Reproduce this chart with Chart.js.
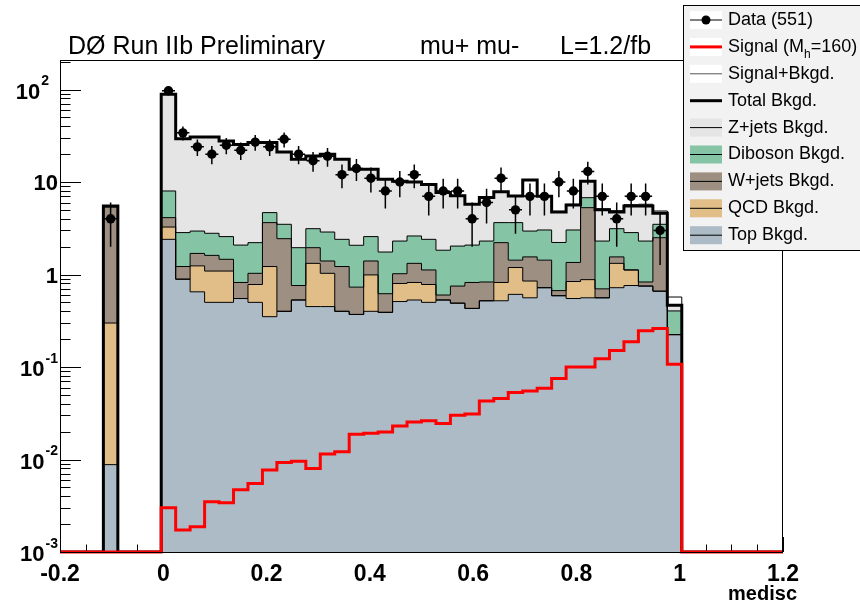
<!DOCTYPE html>
<html lang="en">
<head>
<title>medisc - mu+ mu-</title>
<script src="https://cdn.jsdelivr.net/npm/chart.js"></script>
<style>
  body { margin: 0; background: #fff; }
</style>
</head>
<body>
<canvas id="myChart" width="860" height="605"></canvas>
<script type="text/javascript">

// histogram binning of medisc: 50 bins from -0.2 to 1.2
const nBins = 50, xLow = -0.2, xHigh = 1.2;
const yMin = 1e-3, yMax = 208.5;

// bin contents, index 0..49
const dataCounts = [0,0,0,4,0,0,0,
  97,34,24,20,25,22,27,24,29,20,17,19,12,14,11,8,10,12,7,8,8,4,6,11,5,7,7,10,8,13,7,4,7,7,3,0,
  0,0,0,0,0,0,0];
const topBkgd = [0,0,0,0.0088,0,0,0,
  2.40,0.89,0.65,0.50,0.50,0.55,0.50,0.35,0.40,0.53,0.45,0.45,0.40,0.37,0.40,0.39,0.51,0.53,0.50,0.53,0.49,0.43,0.52,0.52,0.61,0.56,0.72,0.59,0.55,0.56,0.56,0.72,0.76,0.75,0.66,0.224,
  0,0,0,0,0,0,0];
const qcdBkgd = [0,0,0,0.29,0,0,0,
  0.86,0,0.59,0.59,0.59,0,0.28,0.87,0,0,0.87,0.58,0,0,0.59,0,0.29,0.29,0.28,0,0,0,0,0.30,0.58,0.29,0,0,0.29,0.32,0,0.60,0.36,0,0,0,
  0,0,0,0,0,0,0];
const wjetsBkgd = [0,0,0,5.1,0,0,0,
  0.86,0.33,0.45,0.52,0.37,0.27,0.25,2.42,2.04,0.23,0.63,0.37,0.82,0.36,0.41,0.23,0.22,0.50,0.34,0.07,0.26,0.39,0.31,1.39,0.24,0.70,0.71,0.08,0.51,4.40,0.14,0.23,0,0.08,1.84,0,
  0,0,0,0,0,0,0];
const dibosonBkgd = [0,0,0,0,0,0,0,
  3.88,1.62,1.26,1.18,1.11,1.26,1.18,1.03,1.05,1.19,1.18,1.48,1.18,1.34,1.17,1.13,1.28,1.29,1.28,1.23,1.28,1.26,1.47,1.43,2.21,1.40,1.60,1.55,1.68,1.49,1.60,1.58,1.72,1.47,0.99,0.18,
  0,0,0,0,0,0,0];
const zjetsBkgd = [0,0,0,0.1,0,0,0,
  80.8,26.6,27.8,27.9,25.2,23.3,24.5,22.0,17.6,15.7,16.0,17.1,15.2,11.6,11.1,8.95,7.9,7.4,7.0,5.87,5.07,3.66,4.48,4.22,3.43,4.12,3.97,2.53,2.61,3.42,2.70,1.61,2.66,3.20,1.11,0.06,
  0,0,0,0,0,0,0];
const totalBkgd = [0,0,0,5.5,0,0,0,
  88.8,29.4,30.7,30.7,27.8,25.4,26.7,26.7,21.1,17.6,19.1,20,17.6,13.7,13.7,10.7,10.2,10,9.4,7.7,7.1,5.74,6.78,7.86,7.07,10.5,7.0,4.74,5.64,10.2,5.0,4.74,5.5,5.5,4.6,0.464,
  0,0,0,0,0,0,0];
const signalMh160 = [0,0,0,0,0,0,0,
  0.0030,0.00173,0.00188,0.0035,0.0034,0.0047,0.0055,0.0077,0.0093,0.0096,0.0080,0.0115,0.0121,0.0187,0.0192,0.0198,0.023,0.0254,0.0263,0.0245,0.030,0.031,0.043,0.0456,0.053,0.055,0.059,0.075,0.10,0.10,0.123,0.151,0.188,0.247,0.26,0.107,
  0,0,0,0,0,0,0];

const xMajorTicks = [-0.2, 0, 0.2, 0.4, 0.6, 0.8, 1, 1.2];
const xTickLabels = ['-0.2', '0', '0.2', '0.4', '0.6', '0.8', '1', '1.2'];
const yDecades = [-3, -2, -1, 0, 1, 2];

const colTop = '#acbbc6', colQcd = '#e1bd87', colW = '#9d8f81', colDib = '#85c4a5', colZ = '#e5e5e5';

const binW = (xHigh - xLow) / nBins;
const edges = Array.from({ length: nBins + 1 }, (_, i) => xLow + i * binW);

function steps(vals) {
  const pts = vals.map((v, i) => ({ x: edges[i], y: v > yMin ? v : yMin }));
  pts.push({ x: edges[nBins], y: yMin });
  return pts;
}
function addUp(a, b) { return a.map((v, i) => v + b[i]); }

const cTop = topBkgd;
const cQcd = addUp(cTop, qcdBkgd);
const cW = addUp(cQcd, wjetsBkgd);
const cDib = addUp(cW, dibosonBkgd);
const cZ = addUp(cDib, zjetsBkgd);
const sigPlusBkgd = addUp(totalBkgd, signalMh160);

const dataPoints = [];
dataCounts.forEach((n, i) => { if (n > 0) dataPoints.push({ x: edges[i] + binW / 2, y: n }); });

const rootStyle = {
  id: 'rootStyle',
  beforeDraw(chart) {
    const { ctx, chartArea: { left, top, right, bottom }, scales: { x, y } } = chart;
    ctx.save();
    ctx.strokeStyle = '#000';
    ctx.lineWidth = 1;
    ctx.beginPath();
    // x ticks, pointing up
    for (let v = -0.2; v <= 1.2001; v += 0.05) {
      const px = Math.round(x.getPixelForValue(v)) + 0.5;
      const major = Math.abs(v / 0.2 - Math.round(v / 0.2)) < 1e-6;
      ctx.moveTo(px, bottom);
      ctx.lineTo(px, bottom - (major ? 15 : 7.5));
    }
    // y ticks, pointing right
    yDecades.forEach(d => {
      for (let k = 1; k <= 9; k++) {
        const v = k * Math.pow(10, d);
        if (v > yMax) break;
        const py = Math.round(y.getPixelForValue(v)) + 0.5;
        ctx.moveTo(left, py);
        ctx.lineTo(left + (k === 1 ? 21 : 10.5), py);
      }
    });
    ctx.stroke();
    ctx.restore();
  },
  afterDatasetsDraw(chart) {
    const { ctx, scales: { x, y } } = chart;
    ctx.save();
    ctx.strokeStyle = '#000';
    ctx.lineWidth = 1.5;
    ctx.beginPath();
    dataPoints.forEach(p => {
      const e = Math.sqrt(p.y);
      const px = x.getPixelForValue(p.x);
      const lo = y.getPixelForValue(Math.max(p.y - e, yMin));
      const hi = y.getPixelForValue(p.y + e);
      const py = y.getPixelForValue(p.y);
      ctx.moveTo(px, lo);
      ctx.lineTo(px, hi);
      ctx.moveTo(px - 6.5, py);
      ctx.lineTo(px + 6.5, py);
    });
    ctx.stroke();
    ctx.restore();
  },
  afterDraw(chart) {
    const { ctx, chartArea: { left, top, right, bottom }, scales: { x, y } } = chart;
    ctx.save();
    // frame
    ctx.strokeStyle = '#000';
    ctx.lineWidth = 1;
    ctx.strokeRect(left + 0.5, top + 0.5, right - left - 1, bottom - top);

    // x labels
    ctx.fillStyle = '#000';
    ctx.font = 'bold 23px "Liberation Sans", Arial, sans-serif';
    ctx.textAlign = 'center';
    ctx.textBaseline = 'middle';
    xMajorTicks.forEach((v, i) => ctx.fillText(xTickLabels[i], x.getPixelForValue(v), 575));
    ctx.font = 'bold 20px "Liberation Sans", Arial, sans-serif';
    ctx.textAlign = 'right';
    ctx.fillText('medisc', 797, 594);

    // y labels 10^n
    yDecades.forEach(d => {
      const py = y.getPixelForValue(Math.pow(10, d));
      ctx.textAlign = 'right';
      if (d === 0 || d === 1) {
        ctx.font = 'bold 22px "Liberation Sans", Arial, sans-serif';
        ctx.fillText(d === 0 ? '1' : '10', 58, py + 2);
      } else {
        const exp = String(d);
        const r = d > 0 ? 49 : 58;
        ctx.font = 'bold 14px "Liberation Sans", Arial, sans-serif';
        ctx.fillText(exp, r, py - 8);
        const ew = ctx.measureText(exp).width;
        ctx.font = 'bold 22px "Liberation Sans", Arial, sans-serif';
        ctx.fillText('10', r - ew - 1, py + 3);
      }
    });

    // header texts
    ctx.font = '25px "Liberation Sans", Arial, sans-serif';
    ctx.textAlign = 'left';
    ctx.fillText('D\u00d8 Run IIb Preliminary', 68, 47);
    ctx.fillText('mu+ mu-', 420, 47);
    ctx.fillText('L=1.2/fb', 560, 47);

    // legend
    const lx = 683, ly = 5, lw = 200, lh = 245;
    ctx.fillStyle = '#f2f2f2';
    ctx.fillRect(lx, ly, lw, lh);
    ctx.strokeStyle = '#000';
    ctx.lineWidth = 1;
    ctx.strokeRect(lx + 0.5, ly + 0.5, lw, lh);
    const entries = [
      { text: 'Data (551)', box: '#fff', line: '#000', lw: 1, dot: true },
      { text: 'Signal (M', sub: 'h', after: '=160)', box: '#fff', line: '#ff0000', lw: 3 },
      { text: 'Signal+Bkgd.', box: '#fff', line: '#555', lw: 1 },
      { text: 'Total Bkgd.', box: null, line: '#000', lw: 3 },
      { text: 'Z+jets Bkgd.', box: colZ, line: '#000', lw: 1 },
      { text: 'Diboson Bkgd.', box: colDib, line: '#000', lw: 1 },
      { text: 'W+jets Bkgd.', box: colW, line: '#000', lw: 1 },
      { text: 'QCD Bkgd.', box: colQcd, line: '#000', lw: 1 },
      { text: 'Top Bkgd.', box: colTop, line: '#000', lw: 1 }
    ];
    entries.forEach((e, i) => {
      const cy = 20 + i * 26.9;
      if (e.box) { ctx.fillStyle = e.box; ctx.fillRect(690, cy - 9, 32, 18); }
      ctx.strokeStyle = e.line;
      ctx.lineWidth = e.lw;
      ctx.beginPath();
      ctx.moveTo(690, cy);
      ctx.lineTo(722, cy);
      ctx.stroke();
      if (e.dot) {
        ctx.fillStyle = '#000';
        ctx.beginPath();
        ctx.arc(706, cy, 4.5, 0, Math.PI * 2);
        ctx.fill();
      }
      ctx.fillStyle = '#000';
      ctx.font = '18px "Liberation Sans", Arial, sans-serif';
      ctx.textAlign = 'left';
      ctx.fillText(e.text, 728, cy);
      if (e.sub) {
        let tx = 728 + ctx.measureText(e.text).width;
        ctx.font = '12px "Liberation Sans", Arial, sans-serif';
        ctx.fillText(e.sub, tx, cy + 8);
        tx += ctx.measureText(e.sub).width;
        ctx.font = '18px "Liberation Sans", Arial, sans-serif';
        ctx.fillText(e.after, tx, cy);
      }
    });
    ctx.restore();
  }
};

const stepLine = (label, vals, opts) => Object.assign({
  label: label,
  data: steps(vals),
  stepped: true,
  borderColor: '#000',
  borderWidth: 1,
  pointRadius: 0,
  fill: false
}, opts);

const ctx = document.getElementById('myChart');
new Chart(ctx, {
  type: 'line',
  data: {
    datasets: [
      {
        label: 'Data (551)',
        data: dataPoints,
        showLine: false,
        pointRadius: 4.7,
        pointBorderWidth: 0,
        pointBackgroundColor: '#000',
        borderColor: '#000'
      },
      stepLine('Signal (Mh=160)', signalMh160, { borderColor: '#ff0000', borderWidth: 3, clip: false }),
      stepLine('Signal+Bkgd.', sigPlusBkgd, { borderWidth: 1 }),
      stepLine('Total Bkgd.', totalBkgd, { borderWidth: 3 }),
      stepLine('Z+jets Bkgd.', cZ, { backgroundColor: colZ, fill: '+1' }),
      stepLine('Diboson Bkgd.', cDib, { backgroundColor: colDib, fill: '+1' }),
      stepLine('W+jets Bkgd.', cW, { backgroundColor: colW, fill: '+1' }),
      stepLine('QCD Bkgd.', cQcd, { backgroundColor: colQcd, fill: '+1' }),
      stepLine('Top Bkgd.', cTop, { backgroundColor: colTop, fill: 'start' })
    ]
  },
  options: {
    responsive: false,
    animation: false,
    layout: { padding: { left: 60, top: 60, right: 77, bottom: 53 } },
    scales: {
      x: { type: 'linear', min: xLow, max: xHigh, display: false },
      y: { type: 'logarithmic', min: yMin, max: yMax, display: false }
    },
    plugins: {
      legend: { display: false },
      tooltip: { enabled: false },
      filler: { drawTime: 'beforeDatasetsDraw' }
    }
  },
  plugins: [rootStyle]
});
</script>
</body>
</html>
